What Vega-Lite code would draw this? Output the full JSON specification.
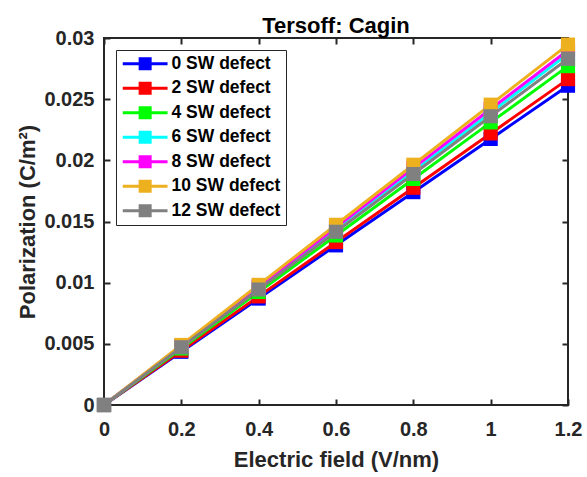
{
  "$schema": "https://vega.github.io/schema/vega-lite/v6.json",
  "autosize": "none",
  "width": 464,
  "height": 367,
  "padding": {"left": 104, "top": 38, "right": 19, "bottom": 72},
  "background": "white",
  "title": {"text": "Tersoff: Cagin", "fontSize": 22, "font": "Liberation Sans", "fontWeight": "bold", "color": "#000000", "offset": -10},
  "config": {
    "font": "Liberation Sans",
    "view": {"stroke": "#262626", "strokeWidth": 2},
    "axis": {"labelFont": "Liberation Sans", "labelFontWeight": "bold", "labelFontSize": 20, "labelColor": "#262626", "labelFlush": false, "titleFont": "Liberation Sans", "titleFontWeight": "bold", "titleFontSize": 22, "titleColor": "#262626", "domain": false, "tickColor": "#262626", "tickWidth": 2, "tickSize": 6, "offset": -6, "grid": false},
    "legend": {"labelFont": "Liberation Sans", "labelFontWeight": "bold", "labelFontSize": 17.5, "labelColor": "#000000"}
  },
  "data": {"values": [
    {"E": 0, "P": 0, "series": "0 SW defect"},
    {"E": 0.2, "P": 0.00435, "series": "0 SW defect"},
    {"E": 0.4, "P": 0.0087, "series": "0 SW defect"},
    {"E": 0.6, "P": 0.01305, "series": "0 SW defect"},
    {"E": 0.8, "P": 0.0174, "series": "0 SW defect"},
    {"E": 1.0, "P": 0.02175, "series": "0 SW defect"},
    {"E": 1.2, "P": 0.0261, "series": "0 SW defect"},
    {"E": 0, "P": 0, "series": "2 SW defect"},
    {"E": 0.2, "P": 0.00444, "series": "2 SW defect"},
    {"E": 0.4, "P": 0.00888, "series": "2 SW defect"},
    {"E": 0.6, "P": 0.01332, "series": "2 SW defect"},
    {"E": 0.8, "P": 0.01776, "series": "2 SW defect"},
    {"E": 1.0, "P": 0.0222, "series": "2 SW defect"},
    {"E": 1.2, "P": 0.02664, "series": "2 SW defect"},
    {"E": 0, "P": 0, "series": "4 SW defect"},
    {"E": 0.2, "P": 0.00462, "series": "4 SW defect"},
    {"E": 0.4, "P": 0.00924, "series": "4 SW defect"},
    {"E": 0.6, "P": 0.01386, "series": "4 SW defect"},
    {"E": 0.8, "P": 0.01848, "series": "4 SW defect"},
    {"E": 1.0, "P": 0.0231, "series": "4 SW defect"},
    {"E": 1.2, "P": 0.0277, "series": "4 SW defect"},
    {"E": 0, "P": 0, "series": "6 SW defect"},
    {"E": 0.2, "P": 0.00478, "series": "6 SW defect"},
    {"E": 0.4, "P": 0.00956, "series": "6 SW defect"},
    {"E": 0.6, "P": 0.01434, "series": "6 SW defect"},
    {"E": 0.8, "P": 0.01912, "series": "6 SW defect"},
    {"E": 1.0, "P": 0.0239, "series": "6 SW defect"},
    {"E": 1.2, "P": 0.0287, "series": "6 SW defect"},
    {"E": 0, "P": 0, "series": "8 SW defect"},
    {"E": 0.2, "P": 0.00484, "series": "8 SW defect"},
    {"E": 0.4, "P": 0.00968, "series": "8 SW defect"},
    {"E": 0.6, "P": 0.01452, "series": "8 SW defect"},
    {"E": 0.8, "P": 0.01936, "series": "8 SW defect"},
    {"E": 1.0, "P": 0.0242, "series": "8 SW defect"},
    {"E": 1.2, "P": 0.029, "series": "8 SW defect"},
    {"E": 0, "P": 0, "series": "10 SW defect"},
    {"E": 0.2, "P": 0.00491, "series": "10 SW defect"},
    {"E": 0.4, "P": 0.00982, "series": "10 SW defect"},
    {"E": 0.6, "P": 0.01473, "series": "10 SW defect"},
    {"E": 0.8, "P": 0.01964, "series": "10 SW defect"},
    {"E": 1.0, "P": 0.02455, "series": "10 SW defect"},
    {"E": 1.2, "P": 0.02946, "series": "10 SW defect"},
    {"E": 0, "P": 0, "series": "12 SW defect"},
    {"E": 0.2, "P": 0.00472, "series": "12 SW defect"},
    {"E": 0.4, "P": 0.00944, "series": "12 SW defect"},
    {"E": 0.6, "P": 0.01416, "series": "12 SW defect"},
    {"E": 0.8, "P": 0.01888, "series": "12 SW defect"},
    {"E": 1.0, "P": 0.0236, "series": "12 SW defect"},
    {"E": 1.2, "P": 0.0283, "series": "12 SW defect"}
  ]},
  "resolve": {"axis": {"x": "independent", "y": "independent"}},
  "layer": [
    {
      "mark": {"type": "line", "strokeWidth": 3, "clip": false},
      "encoding": {
        "x": {"field": "E", "type": "quantitative", "scale": {"domain": [0, 1.2], "nice": false}, "axis": {"values": [0, 0.2, 0.4, 0.6, 0.8, 1, 1.2], "format": "~g", "title": "Electric field (V/nm)", "labelPadding": 14, "titlePadding": 10}},
        "y": {"field": "P", "type": "quantitative", "scale": {"domain": [0, 0.03], "nice": false, "zero": true}, "axis": {"values": [0, 0.005, 0.01, 0.015, 0.02, 0.025, 0.03], "format": "~g", "title": "Polarization (C/m²)", "labelPadding": 10, "titlePadding": 4}},
        "color": {"field": "series", "type": "nominal", "sort": ["0 SW defect", "2 SW defect", "4 SW defect", "6 SW defect", "8 SW defect", "10 SW defect", "12 SW defect"],
          "scale": {"domain": ["0 SW defect", "2 SW defect", "4 SW defect", "6 SW defect", "8 SW defect", "10 SW defect", "12 SW defect"], "range": ["#0000ff", "#ff0000", "#00ff00", "#00ffff", "#ff00ff", "#edb120", "#808080"]},
          "legend": {"title": null, "orient": "top-left", "offset": 12, "strokeColor": "#262626", "padding": 5,
            "symbolType": "M-1,-0.21H5.4V0.21H-1Z M1.27,-0.93H3.13V0.93H1.27Z", "symbolSize": 196, "symbolStrokeWidth": 0, "rowPadding": 5.5, "labelOffset": 33}}
      }
    },
    {
      "mark": {"type": "point", "shape": "square", "filled": true, "size": 200, "opacity": 1, "clip": false},
      "encoding": {
        "x": {"field": "E", "type": "quantitative", "axis": {"orient": "top", "values": [0, 0.2, 0.4, 0.6, 0.8, 1, 1.2], "labels": false, "title": null, "labelPadding": 0}},
        "y": {"field": "P", "type": "quantitative", "axis": {"orient": "right", "values": [0, 0.005, 0.01, 0.015, 0.02, 0.025, 0.03], "labels": false, "title": null, "labelPadding": 0}},
        "color": {"field": "series", "type": "nominal"}
      }
    }
  ]
}
